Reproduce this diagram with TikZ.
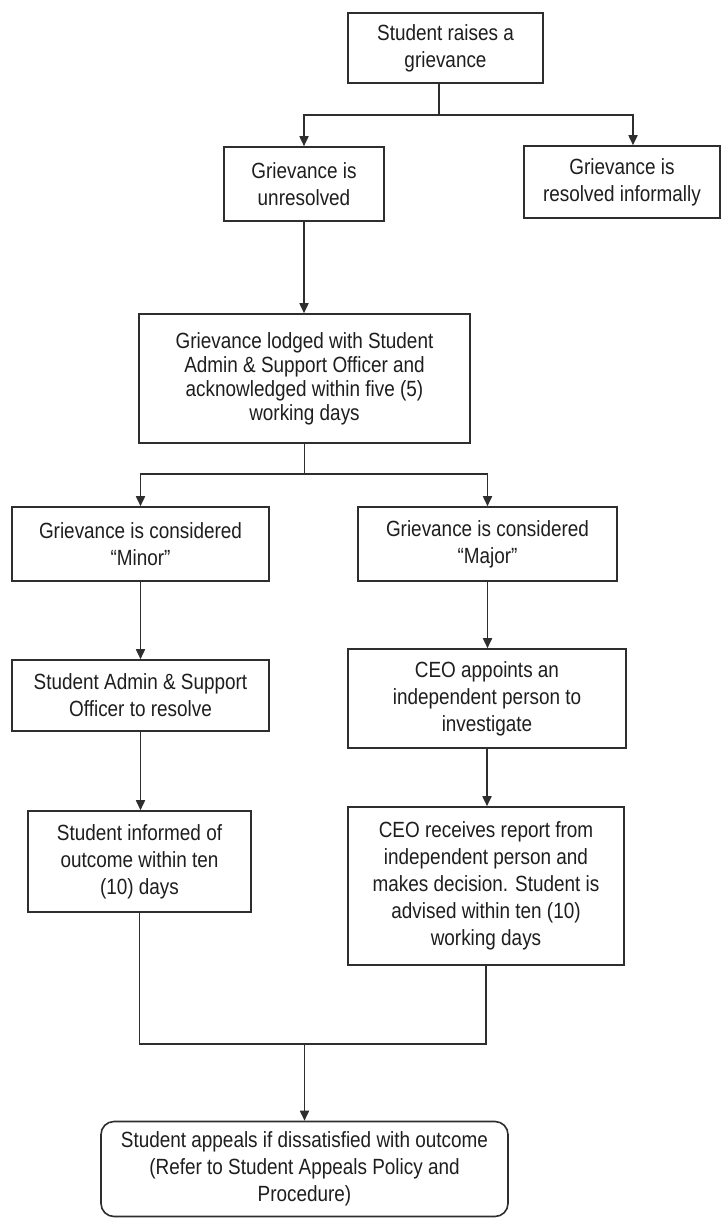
\documentclass[tikz,border=0pt]{standalone}
\usepackage{fontspec}
\setmainfont{Liberation Sans}[FakeStretch=0.86]
\usetikzlibrary{arrows.meta}
\definecolor{lncol}{HTML}{2E2E2E}
\definecolor{txcol}{HTML}{1E1E1E}
\begin{document}
\begin{tikzpicture}[x=1pt,y=-1pt,
  box/.style={draw=lncol, line width=1.6pt, rectangle, inner sep=0pt, align=center, text=txcol, font=\fontsize{22}{27}\selectfont},
  conn/.style={draw=lncol, line width=1.7pt},
  arr/.style={draw=lncol, line width=1.7pt, -{Triangle[width=9pt,length=10pt]}}]
\fill[white] (0,0) rectangle (721,1218);
\useasboundingbox (0,0) rectangle (721,1218);

\node[box, minimum width=195pt, minimum height=70pt] (b1) at (445.5,48) {Student raises a\\grievance};
\node[box, minimum width=160pt, minimum height=74pt] (b2) at (304,184) {Grievance is\\unresolved};
\node[box, minimum width=196pt, minimum height=72pt] (b3) at (622,182) {Grievance is\\resolved informally};
\node[box, minimum width=331pt, minimum height=129pt, font=\fontsize{22}{24}\selectfont] (b4) at (304.5,378.5) {Grievance lodged with Student\\Admin \& Support Officer and\\acknowledged within five (5)\\working days};
\node[box, minimum width=257pt, minimum height=74pt] (b5) at (140.5,544) {Grievance is considered\\“Minor”};
\node[box, minimum width=259pt, minimum height=74pt] (b6) at (487.5,544) {Grievance is considered\\“Major”};
\node[box, minimum width=257pt, minimum height=71pt] (b7) at (140.5,695.5) {Student Admin \& Support\\Officer to resolve};
\node[box, minimum width=278pt, minimum height=99pt] (b8) at (487,698.5) {CEO appoints an\\independent person to\\investigate};
\node[box, minimum width=223pt, minimum height=101pt] (b9) at (139.5,861.5) {Student informed of\\outcome within ten\\(10) days};
\node[box, minimum width=276pt, minimum height=158pt] (b10) at (486,886) {CEO receives report from\\independent person and\\makes decision. Student is\\advised within ten (10)\\working days};
\node[box, rounded corners=13pt, minimum width=407pt, minimum height=95pt] (b11) at (304.5,1169) {Student appeals if dissatisfied with outcome\\(Refer to Student Appeals Policy and\\Procedure)};

\coordinate (j1) at (439,115);
\draw[conn] (b1.south -| j1) -- (j1);
\draw[arr] (j1) -| (b2.north);
\draw[arr] (j1) -| ([xshift=11pt]b3.north);
\draw[arr] (b2.south) -- (b2.south |- b4.north);

\coordinate (j2) at (304.5,474);
\draw[conn] (b4.south) -- (j2);
\draw[arr] (j2) -| (b5.north);
\draw[arr] (j2) -| (b6.north);
\draw[arr] (b5.south) -- (b7.north);
\draw[arr] (b6.south) -- (b6.south |- b8.north);
\draw[arr] (b7.south) -- (b7.south |- b9.north);
\draw[arr] (b8.south) -- (b8.south |- b10.north);

\coordinate (j3) at (304.5,1044);
\draw[conn] (b9.south) |- (j3) -| (b10.south);
\draw[arr] (j3) -- (b11.north);
\end{tikzpicture}
\end{document}
